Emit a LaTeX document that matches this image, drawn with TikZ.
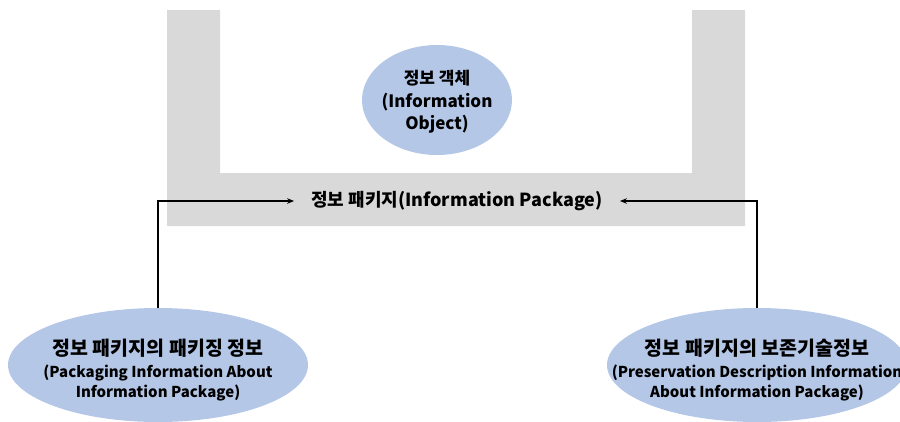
\documentclass[tikz,border=0pt]{standalone}
\usepackage{fontspec}
\setmainfont{Noto Sans CJK KR}
\usetikzlibrary{arrows.meta,shapes.geometric}
\definecolor{grayband}{HTML}{D9D9D9}
\definecolor{ellblue}{HTML}{B4C7E7}
\newcommand{\krline}[1]{{\fontsize{19.5}{20}\selectfont #1}}
\begin{document}
\begin{tikzpicture}[x=1pt,y=-1pt,
  blob/.style={ellipse,fill=ellblue,draw=none,inner sep=0pt},
  blobtext/.style={align=center,inner sep=0pt,font=\bfseries\fontsize{15}{20}\selectfont},
  conn/.style={line width=1.1pt,-{Stealth[length=7pt,width=5.5pt]}}]
\useasboundingbox (0,0) rectangle (900,421);
\clip (0,0) rectangle (900,421);
% gray U band
\fill[grayband] (167,10) -- (220,10) -- (220,173) -- (692,173) -- (692,10) -- (745,10) -- (745,226) -- (167,226) -- cycle;
\node[blob,minimum width=150pt,minimum height=110pt] (obj) at (437,100) {};
\node[blobtext,font=\bfseries\fontsize{17}{22.5}\selectfont] (objt) at ([yshift=-2pt]obj.center) {정보 객체\\(Information\\Object)};
\node[font=\bfseries\fontsize{18}{20}\selectfont,inner sep=2pt] (pkg) at (457,201) {정보 패키지(Information Package)};
\node[blob,minimum width=300pt,minimum height=114pt] (L) at (158,365) {};
\node[blobtext] (Lt) at ([yshift=-5pt]L.center) {\krline{정보 패키지의 패키징 정보}\\[2pt](Packaging Information About\\Information Package)};
\node[blob,minimum width=300pt,minimum height=114pt] (R) at (757,365) {};
\node[blobtext] (Rt) at ([yshift=-5pt]R.center) {\krline{정보 패키지의 보존기술정보}\\[2pt](Preservation Description Information\\About Information Package)};
\coordinate (la) at ([xshift=-15pt]pkg.west);
\coordinate (ra) at ([xshift=15pt]pkg.east);
\draw[conn] (L.north) |- (la);
\draw[conn] (R.north) |- (ra);
\end{tikzpicture}
\end{document}
